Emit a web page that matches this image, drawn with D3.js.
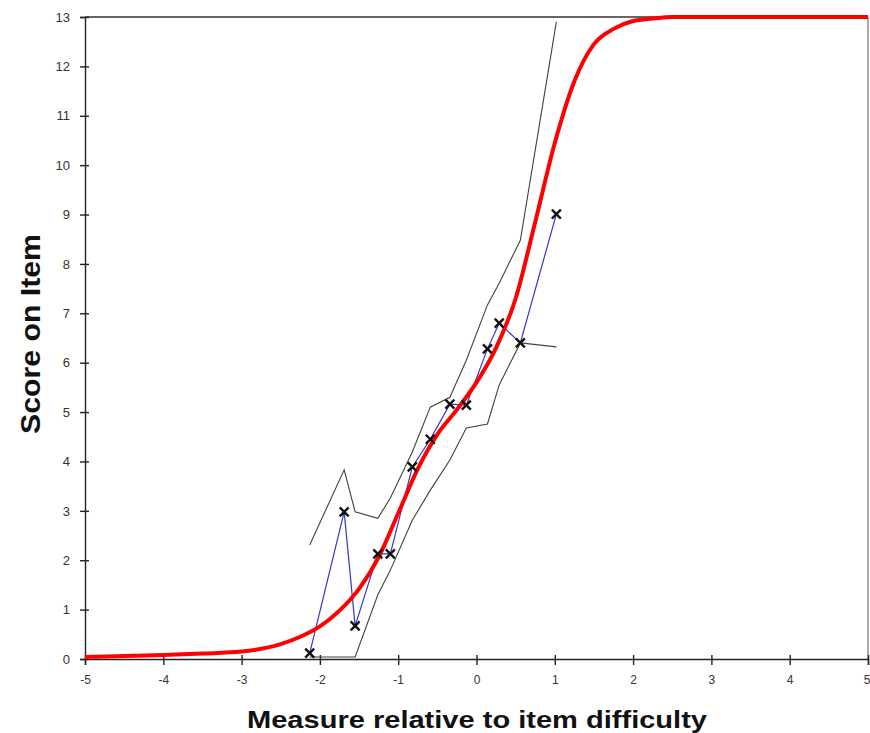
<!DOCTYPE html>
<html lang="en">
<head>
<meta charset="UTF-8">
<title>Score on Item</title>
<script src="https://d3js.org/d3.v7.min.js"></script>
<style>
  body { margin: 0; background: #fff; }
  svg { display: block; font-family: "Liberation Sans", Arial, sans-serif; }
</style>
</head>
<body>
<script>
// tick labels
const xTickLabels = [-5, -4, -3, -2, -1, 0, 1, 2, 3, 4, 5];
const yTickLabels = [0, 1, 2, 3, 4, 5, 6, 7, 8, 9, 10, 11, 12, 13];

// model expected score curve (red)
const modelX = [-5, -4.5, -4, -3.5, -3, -2.5, -2.25, -2, -1.75, -1.5, -1.25, -1, -0.75, -0.5, -0.25, 0, 0.25, 0.5, 0.75, 1, 1.25, 1.5, 1.75, 2, 2.25, 2.5, 3, 4, 5];
const modelY = [0.04, 0.06, 0.08, 0.11, 0.15, 0.3, 0.45, 0.66, 0.98, 1.42, 2.06, 2.95, 3.85, 4.55, 5.05, 5.6, 6.3, 7.3, 8.85, 10.45, 11.7, 12.45, 12.76, 12.92, 12.97, 13, 13, 13, 13];

// observed (empirical) points
const obsX = [-2.13, -1.69, -1.55, -1.26, -1.1, -0.82, -0.59, -0.34, -0.13, 0.14, 0.29, 0.56, 1.02];
const obsY = [0.12, 2.98, 0.67, 2.13, 2.13, 3.89, 4.45, 5.16, 5.14, 6.28, 6.8, 6.4, 9.01];

// confidence bands
const upperY = [2.31, 3.83, 2.98, 2.85, 3.26, 4.19, 5.1, 5.3, 6.05, 7.17, 7.61, 8.48, 12.9];
const lowerY = [0.04, 0.04, 0.04, 1.3, 1.8, 2.81, 3.42, 4.03, 4.68, 4.76, 5.55, 6.4, 6.32];

const W = 870, H = 733;
const svg = d3.select("body").append("svg").attr("width", W).attr("height", H);

const x = d3.scaleLinear().domain([-5, 5]).range([85, 868]);
const y = d3.scaleLinear().domain([0, 13]).range([659, 17]);

// frame
svg.append("line").attr("x1", x(-5)).attr("x2", x(5)).attr("y1", y(13)).attr("y2", y(13))
  .attr("stroke", "#333").attr("stroke-width", 1.3);
svg.append("line").attr("x1", x(5)).attr("x2", x(5)).attr("y1", y(13)).attr("y2", y(0))
  .attr("stroke", "#555").attr("stroke-width", 1);

// axes
const yAxis = svg.append("g").attr("transform", "translate(" + x(-5) + ",0)")
  .call(d3.axisLeft(y).tickValues(yTickLabels).tickSize(5).tickPadding(10));
yAxis.selectAll(".tick line").attr("x2", 4).attr("x1", -5);
const xAxis = svg.append("g").attr("transform", "translate(0," + y(0) + ")")
  .call(d3.axisBottom(x).tickValues(xTickLabels).tickSize(6).tickPadding(10)
    .tickFormat(d3.format("d")));
xAxis.selectAll(".tick line").attr("y1", -4).attr("y2", 6);

[yAxis, xAxis].forEach(g => {
  g.select(".domain").attr("stroke", "#222").attr("stroke-width", 1.4);
  g.selectAll(".tick line").attr("stroke", "#222").attr("stroke-width", 1.4);
  g.selectAll(".tick text").attr("fill", "#333").style("font-family", "Liberation Sans, Arial, sans-serif");
});
yAxis.selectAll(".tick text").style("font-size", "13px");
xAxis.selectAll(".tick text").style("font-size", "12px").text(d => d < 0 ? "-" + Math.abs(d) : d);
// last label sits on the window edge
xAxis.selectAll(".tick text").filter(d => d === 5).attr("text-anchor", "end").attr("dx", 2);

// titles
svg.append("text").attr("x", 477).attr("y", 728).attr("text-anchor", "middle")
  .style("font-size", "24px").style("font-weight", "bold").attr("fill", "#111")
  .attr("textLength", 460).attr("lengthAdjust", "spacingAndGlyphs")
  .text("Measure relative to item difficulty");
svg.append("text").attr("transform", "translate(40,334) rotate(-90)").attr("text-anchor", "middle")
  .style("font-size", "28px").style("font-weight", "bold").attr("fill", "#111")
  .attr("textLength", 200).attr("lengthAdjust", "spacingAndGlyphs")
  .text("Score on Item");

// bands
const band = d3.line().x(d => x(d[0])).y(d => y(d[1]));
svg.append("path").datum(d3.zip(obsX, upperY)).attr("d", band)
  .attr("fill", "none").attr("stroke", "#34483c").attr("stroke-width", 1.1);
svg.append("path").datum(d3.zip(obsX, lowerY)).attr("d", band)
  .attr("fill", "none").attr("stroke", "#34483c").attr("stroke-width", 1.1);

// empirical line
svg.append("path").datum(d3.zip(obsX, obsY)).attr("d", band)
  .attr("fill", "none").attr("stroke", "#3636c8").attr("stroke-width", 1.2);

// model curve
const smooth = d3.line().x(d => x(d[0])).y(d => y(d[1])).curve(d3.curveMonotoneX);
svg.append("path").datum(d3.zip(modelX, modelY)).attr("d", smooth)
  .attr("fill", "none").attr("stroke", "#ff0000").attr("stroke-width", 4)
  .attr("stroke-linejoin", "round");

// crosses
svg.selectAll(".pt").data(d3.zip(obsX, obsY)).enter().append("path")
  .attr("class", "pt")
  .attr("transform", d => "translate(" + x(d[0]) + "," + y(d[1]) + ")")
  .attr("d", "M-4.5,-4.5L4.5,4.5M-4.5,4.5L4.5,-4.5")
  .attr("stroke", "#111").attr("stroke-width", 2.4);
</script>
</body>
</html>
